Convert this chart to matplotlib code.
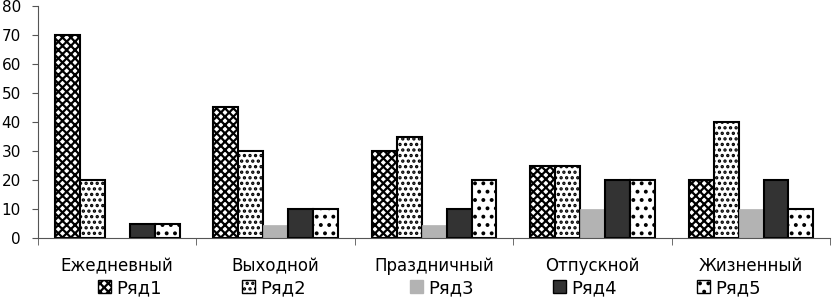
import matplotlib
matplotlib.use("Agg")
import matplotlib.pyplot as plt
import numpy as np
from matplotlib.patches import Patch

plt.rcParams['font.family'] = ['DejaVu Sans']
plt.rcParams['hatch.linewidth'] = 1.6

categories = ['Ежедневный', 'Выходной', 'Праздничный', 'Отпускной', 'Жизненный']
series_names = ['Ряд1', 'Ряд2', 'Ряд3', 'Ряд4', 'Ряд5']
r1 = [70, 45, 30, 25, 20]
r2 = [20, 30, 35, 25, 40]
r3 = [0, 4.5, 4.5, 10, 10]
r4 = [5, 10, 10, 20, 20]
r5 = [5, 10, 20, 20, 10]
series = [r1, r2, r3, r4, r5]
yticks = [0, 10, 20, 30, 40, 50, 60, 70, 80]

styles = [
    dict(facecolor='white', edgecolor='black', hatch='xxxx', linewidth=1.5),
    dict(facecolor='white', edgecolor='black', hatch='...', linewidth=1.5),
    dict(facecolor='#b3b3b3', edgecolor='#b3b3b3', hatch=None, linewidth=0.5),
    dict(facecolor='#333333', edgecolor='black', hatch=None, linewidth=1.5),
    dict(facecolor='white', edgecolor='black', hatch='..', linewidth=1.5),
]

fig = plt.figure(figsize=(8.32, 3.01), dpi=100)
ax = fig.add_axes([38/832, 1-238/301, 1-38/832-0.002, (238-6)/301])

x = np.arange(len(categories))
w = 25/159
for i, (vals, st) in enumerate(zip(series, styles)):
    ax.bar(x + (i-2)*w, vals, width=w, label=series_names[i], **st)

ax.set_xlim(-0.5, len(categories)-0.5)
ax.set_ylim(0, 80)
ax.set_yticks(yticks)
ax.set_yticklabels([str(v) for v in yticks], fontsize=11)
ax.set_xticks(x)
ax.set_xticklabels(categories, fontsize=12)
ax.set_xticks(np.arange(-0.5, len(categories)), minor=True)
ax.tick_params(axis='x', which='major', length=0, pad=14)
ax.tick_params(axis='x', which='minor', length=5, direction='out', color='#555555')
ax.tick_params(axis='y', length=4.3, direction='out', color='#555555', pad=8)
for s in ['top', 'right']:
    ax.spines[s].set_visible(False)
ax.spines['left'].set_color('#555555')
ax.spines['bottom'].set_color('#555555')

legend_x = [98, 242, 410, 553, 697]
for st, n, lx in zip(styles, series_names, legend_x):
    h = Patch(**{k: v for k, v in st.items() if k != 'linewidth'}, linewidth=1.0, label=n)
    fig.legend(handles=[h], loc='center left', bbox_to_anchor=(lx/832, 1-288/301),
               frameon=False, fontsize=13, handlelength=0.7, handleheight=0.7,
               handletextpad=0.3, borderpad=0, borderaxespad=0)

fig.savefig('out.png', dpi=100)
